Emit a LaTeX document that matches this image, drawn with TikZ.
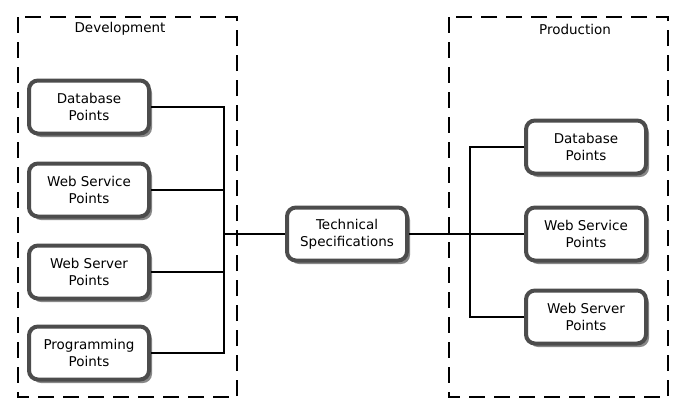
\documentclass[tikz,border=0pt]{standalone}
\usepackage{fontspec}
\setmainfont{DejaVu Sans}
\usetikzlibrary{shadows}
\begin{document}
\begin{tikzpicture}[x=1pt,y=-1pt,
  box/.style={draw=black!70, line width=4pt, rounded corners=9pt, fill=white,
    minimum width=120pt, minimum height=53pt, align=center, inner sep=2pt,
    font=\fontsize{13.5}{17}\selectfont,
    drop shadow={shadow xshift=3pt, shadow yshift=-3.5pt, fill=black!55, opacity=0.85}},
  group/.style={draw=black, line width=2.4pt, dash pattern=on 16pt off 9pt},
  lbl/.style={font=\fontsize{13.5}{17}\selectfont},
  conn/.style={draw=black, line width=1.8pt}]
\useasboundingbox (0,0) rectangle (687,415);
\draw[group] (18,17) rectangle (237,397);
\draw[group] (449,17) rectangle (668,397);
\node[lbl] (dev) at (120,29) {Development};
\node[lbl] (prod) at (575,29) {Production};
\node[box] (d1) at (89,107) {Database\\Points};
\node[box] (d2) at (89,190) {Web Service\\Points};
\node[box] (d3) at (89,272) {Web Server\\Points};
\node[box] (d4) at (89,353) {Programming\\Points};
\node[box] (ts) at (347,234) {Technical\\Specifications};
\node[box] (p1) at (586,147) {Database\\Points};
\node[box] (p2) at (586,234) {Web Service\\Points};
\node[box] (p3) at (586,317) {Web Server\\Points};
\coordinate (lj) at (224,234);
\coordinate (rj) at (470,234);
\draw[conn] (d1.east) -| (lj);
\draw[conn] (d2.east) -| (lj);
\draw[conn] (d3.east) -| (lj);
\draw[conn] (d4.east) -| (lj);
\draw[conn] (lj) -- (ts.west);
\draw[conn] (ts.east) -- (p2.west);
\draw[conn] (p1.west) -| (rj);
\draw[conn] (p3.west) -| (rj);
\end{tikzpicture}
\end{document}
